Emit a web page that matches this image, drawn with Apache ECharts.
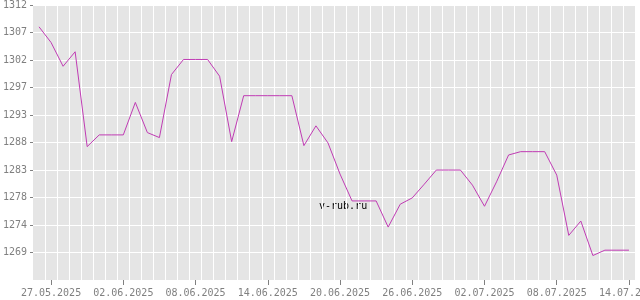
<!DOCTYPE html>
<html>
<head>
<meta charset="utf-8">
<script src="https://cdn.jsdelivr.net/npm/echarts@6/dist/echarts.min.js"></script>
<style>html,body{margin:0;padding:0;background:#fff}#c{width:640px;height:300px}</style>
</head>
<body>
<div id="c"></div>
<script>
const dates = [
  '26.05.2025','27.05.2025','28.05.2025','29.05.2025','30.05.2025','31.05.2025',
  '01.06.2025','02.06.2025','03.06.2025','04.06.2025','05.06.2025','06.06.2025','07.06.2025',
  '08.06.2025','09.06.2025','10.06.2025','11.06.2025','12.06.2025','13.06.2025','14.06.2025',
  '15.06.2025','16.06.2025','17.06.2025','18.06.2025','19.06.2025','20.06.2025','21.06.2025',
  '22.06.2025','23.06.2025','24.06.2025','25.06.2025','26.06.2025','27.06.2025','28.06.2025',
  '29.06.2025','30.06.2025','01.07.2025','02.07.2025','03.07.2025','04.07.2025','05.07.2025',
  '06.07.2025','07.07.2025','08.07.2025','09.07.2025','10.07.2025','11.07.2025','12.07.2025',
  '13.07.2025','14.07.2025'
];
const rates = [
  1307.9, 1305.2, 1301.1, 1303.6, 1287.25, 1289.27,
  1289.27, 1289.27, 1294.87, 1289.67, 1288.81, 1299.67, 1302.27,
  1302.27, 1302.27, 1299.38, 1288.11, 1296.03, 1296.03, 1296.03,
  1296.03, 1296.03, 1287.42, 1290.83, 1287.89, 1282.52, 1277.89,
  1277.89, 1277.89, 1273.38, 1277.32, 1278.41, 1280.78, 1283.21,
  1283.21, 1283.21, 1280.61, 1276.97, 1281.18, 1285.81, 1286.38,
  1286.38, 1286.38, 1282.34, 1271.95, 1274.42, 1268.48, 1269.4,
  1269.4, 1269.4
];
const yTicks = [1269, 1273.74, 1278.48, 1283.22, 1287.96, 1292.7, 1297.44, 1302.18, 1306.92, 1311.66];
const yMin = 1264.26, yMax = 1311.66;
const watermark = 'v-rub.ru';

const font = 'DejaVu Sans Mono';
const chart = echarts.init(document.getElementById('c'), null, {renderer: 'canvas'});
const showIdx = (i) => (i - 1) % 6 === 0;
chart.setOption({
  animation: false,
  backgroundColor: '#ffffff',
  grid: {left: 33, right: 5, top: 5, bottom: 20, show: true, backgroundColor: '#e5e5e5', borderWidth: 0,
    containLabel: false, outerBoundsMode: 'none'},
  xAxis: {
    type: 'category',
    data: dates,
    boundaryGap: true,
    axisLine: {show: false},
    axisTick: {show: true, alignWithLabel: true, length: 5, interval: showIdx, lineStyle: {color: '#808080'}},
    axisLabel: {interval: showIdx, margin: 8, color: '#808080', fontFamily: font, fontSize: 10, hideOverlap: false},
    splitLine: {show: true, interval: 0, showMinLine: false, showMaxLine: false, lineStyle: {color: '#ffffff', width: 1}}
  },
  yAxis: {
    type: 'value',
    min: yMin,
    max: yMax,
    axisLine: {show: false},
    axisTick: {show: true, length: 3, customValues: yTicks, lineStyle: {color: '#808080'}},
    axisLabel: {customValues: yTicks, margin: 6, color: '#808080', fontFamily: font, fontSize: 10,
      formatter: (v) => String(Math.round(v))},
    splitLine: {show: true, lineStyle: {color: '#ffffff', width: 1}}
  },
  graphic: [{
    type: 'text', left: 319, top: 201,
    style: {text: watermark, fill: '#000000', font: '10px ' + font}
  }],
  series: [{
    type: 'line',
    data: rates,
    showSymbol: false,
    symbol: 'none',
    lineStyle: {color: '#c03cb4', width: 1},
    itemStyle: {color: '#c03cb4'}
  }]
});
</script>
</body>
</html>
